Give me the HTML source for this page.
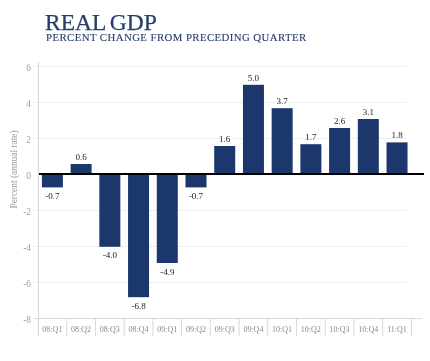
<!DOCTYPE html>
<html><head><meta charset="utf-8"><style>
html,body{margin:0;padding:0;background:#fff;}
body{width:430px;height:361px;overflow:hidden;position:relative;font-family:"Liberation Serif",serif;}
.t1{position:absolute;left:45px;top:10.5px;font-size:23.5px;word-spacing:-1.6px;-webkit-text-stroke:0.25px #263d68;color:#263d68;white-space:nowrap;line-height:1;}
.t2{position:absolute;left:46px;top:32px;font-size:10.8px;letter-spacing:0.42px;-webkit-text-stroke:0.12px #263d68;color:#263d68;white-space:nowrap;line-height:1;}
svg{position:absolute;left:0;top:0;}
.t1,.t2,svg{will-change:transform;}
.tk{font-family:"Liberation Serif",serif;font-size:9.4px;fill:#a0a0a0;}
.vl{font-family:"Liberation Serif",serif;font-size:9px;fill:#222;}
.ct{font-family:"Liberation Serif",serif;font-size:8px;fill:#888;}
.yl{font-family:"Liberation Serif",serif;font-size:9.4px;fill:#999;}
</style></head><body>
<div class="t1">REAL GDP</div>
<div class="t2">PERCENT CHANGE FROM PRECEDING QUARTER</div>
<svg width="430" height="361" viewBox="0 0 430 361">
<line x1="34" y1="66.50" x2="406.5" y2="66.50" stroke="#eeeeee" stroke-width="1"/>
<line x1="34" y1="102.50" x2="406.5" y2="102.50" stroke="#eeeeee" stroke-width="1"/>
<line x1="34" y1="138.50" x2="406.5" y2="138.50" stroke="#eeeeee" stroke-width="1"/>
<line x1="34" y1="210.50" x2="406.5" y2="210.50" stroke="#eeeeee" stroke-width="1"/>
<line x1="34" y1="246.50" x2="406.5" y2="246.50" stroke="#eeeeee" stroke-width="1"/>
<line x1="34" y1="282.50" x2="406.5" y2="282.50" stroke="#eeeeee" stroke-width="1"/>
<line x1="34" y1="318.50" x2="422" y2="318.50" stroke="#d9d9d9" stroke-width="1"/>
<text x="31" y="70.60" text-anchor="end" class="tk">6</text>
<text x="31" y="106.60" text-anchor="end" class="tk">4</text>
<text x="31" y="142.60" text-anchor="end" class="tk">2</text>
<text x="31" y="178.60" text-anchor="end" class="tk">0</text>
<text x="31" y="214.60" text-anchor="end" class="tk">-2</text>
<text x="31" y="250.60" text-anchor="end" class="tk">-4</text>
<text x="31" y="286.60" text-anchor="end" class="tk">-6</text>
<text x="31" y="322.60" text-anchor="end" class="tk">-8</text>
<rect x="41.90" y="174.00" width="21.0" height="13.40" fill="#1c376b"/>
<text x="52.40" y="198.90" text-anchor="middle" class="vl">-0.7</text>
<rect x="70.62" y="164.00" width="21.0" height="10.80" fill="#1c376b"/>
<text x="81.12" y="159.80" text-anchor="middle" class="vl">0.6</text>
<rect x="99.34" y="174.00" width="21.0" height="72.80" fill="#1c376b"/>
<text x="109.84" y="258.30" text-anchor="middle" class="vl">-4.0</text>
<rect x="128.06" y="174.00" width="21.0" height="123.20" fill="#1c376b"/>
<text x="138.56" y="308.70" text-anchor="middle" class="vl">-6.8</text>
<rect x="156.78" y="174.00" width="21.0" height="89.00" fill="#1c376b"/>
<text x="167.28" y="274.50" text-anchor="middle" class="vl">-4.9</text>
<rect x="185.50" y="174.00" width="21.0" height="13.40" fill="#1c376b"/>
<text x="196.00" y="198.90" text-anchor="middle" class="vl">-0.7</text>
<rect x="214.22" y="146.00" width="21.0" height="28.80" fill="#1c376b"/>
<text x="224.72" y="141.80" text-anchor="middle" class="vl">1.6</text>
<rect x="242.94" y="84.80" width="21.0" height="90.00" fill="#1c376b"/>
<text x="253.44" y="80.60" text-anchor="middle" class="vl">5.0</text>
<rect x="271.66" y="108.20" width="21.0" height="66.60" fill="#1c376b"/>
<text x="282.16" y="104.00" text-anchor="middle" class="vl">3.7</text>
<rect x="300.38" y="144.20" width="21.0" height="30.60" fill="#1c376b"/>
<text x="310.88" y="140.00" text-anchor="middle" class="vl">1.7</text>
<rect x="329.10" y="128.00" width="21.0" height="46.80" fill="#1c376b"/>
<text x="339.60" y="123.80" text-anchor="middle" class="vl">2.6</text>
<rect x="357.82" y="119.00" width="21.0" height="55.80" fill="#1c376b"/>
<text x="368.32" y="114.80" text-anchor="middle" class="vl">3.1</text>
<rect x="386.54" y="142.40" width="21.0" height="32.40" fill="#1c376b"/>
<text x="397.04" y="138.20" text-anchor="middle" class="vl">1.8</text>
<line x1="38" y1="174.00" x2="424" y2="174.00" stroke="#000" stroke-width="2"/>
<line x1="38.5" y1="62" x2="38.5" y2="336" stroke="#d4d4d4" stroke-width="1"/>
<line x1="66.72" y1="318.00" x2="66.72" y2="336" stroke="#d9d9d9" stroke-width="1"/>
<text x="52.36" y="332" text-anchor="middle" class="ct">08:Q1</text>
<line x1="95.44" y1="318.00" x2="95.44" y2="336" stroke="#d9d9d9" stroke-width="1"/>
<text x="81.08" y="332" text-anchor="middle" class="ct">08:Q2</text>
<line x1="124.16" y1="318.00" x2="124.16" y2="336" stroke="#d9d9d9" stroke-width="1"/>
<text x="109.80" y="332" text-anchor="middle" class="ct">08:Q3</text>
<line x1="152.88" y1="318.00" x2="152.88" y2="336" stroke="#d9d9d9" stroke-width="1"/>
<text x="138.52" y="332" text-anchor="middle" class="ct">08:Q4</text>
<line x1="181.60" y1="318.00" x2="181.60" y2="336" stroke="#d9d9d9" stroke-width="1"/>
<text x="167.24" y="332" text-anchor="middle" class="ct">09:Q1</text>
<line x1="210.32" y1="318.00" x2="210.32" y2="336" stroke="#d9d9d9" stroke-width="1"/>
<text x="195.96" y="332" text-anchor="middle" class="ct">09:Q2</text>
<line x1="239.04" y1="318.00" x2="239.04" y2="336" stroke="#d9d9d9" stroke-width="1"/>
<text x="224.68" y="332" text-anchor="middle" class="ct">09:Q3</text>
<line x1="267.76" y1="318.00" x2="267.76" y2="336" stroke="#d9d9d9" stroke-width="1"/>
<text x="253.40" y="332" text-anchor="middle" class="ct">09:Q4</text>
<line x1="296.48" y1="318.00" x2="296.48" y2="336" stroke="#d9d9d9" stroke-width="1"/>
<text x="282.12" y="332" text-anchor="middle" class="ct">10:Q1</text>
<line x1="325.20" y1="318.00" x2="325.20" y2="336" stroke="#d9d9d9" stroke-width="1"/>
<text x="310.84" y="332" text-anchor="middle" class="ct">10:Q2</text>
<line x1="353.92" y1="318.00" x2="353.92" y2="336" stroke="#d9d9d9" stroke-width="1"/>
<text x="339.56" y="332" text-anchor="middle" class="ct">10:Q3</text>
<line x1="382.64" y1="318.00" x2="382.64" y2="336" stroke="#d9d9d9" stroke-width="1"/>
<text x="368.28" y="332" text-anchor="middle" class="ct">10:Q4</text>
<line x1="411.36" y1="318.00" x2="411.36" y2="336" stroke="#d9d9d9" stroke-width="1"/>
<text x="397.00" y="332" text-anchor="middle" class="ct">11:Q1</text>
<text transform="translate(16.6,169.5) rotate(-90)" text-anchor="middle" class="yl">Percent (annual rate)</text>
</svg>
</body></html>
